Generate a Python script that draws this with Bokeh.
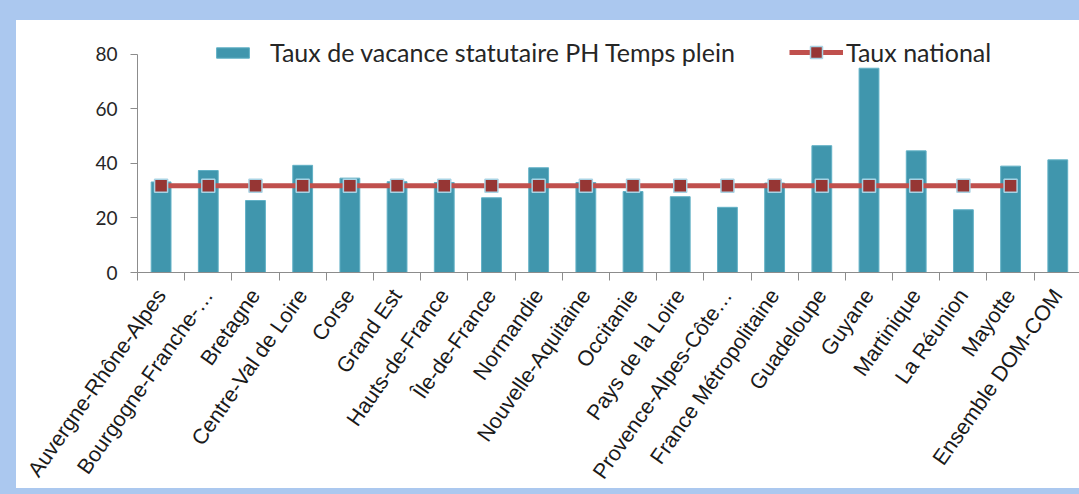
import numpy as np
from bokeh.plotting import figure
from bokeh.models import ColumnDataSource, Range1d, FixedTicker, Legend, LegendItem
from bokeh.embed import file_html
from bokeh.resources import INLINE

# ---- data ----
regions = ["Auvergne-Rhône-Alpes", "Bourgogne-Franche-…", "Bretagne",
           "Centre-Val de Loire", "Corse", "Grand Est", "Hauts-de-France",
           "Île-de-France", "Normandie", "Nouvelle-Aquitaine", "Occitanie",
           "Pays de la Loire", "Provence-Alpes-Côte…", "France Métropolitaine",
           "Guadeloupe", "Guyane", "Martinique", "La Réunion", "Mayotte",
           "Ensemble DOM-COM"]
taux_vacance = [33.2, 37.4, 26.4, 39.3, 34.6, 33.3, 33.0, 27.4, 38.4, 33.0,
                29.7, 27.8, 23.9, 32.8, 46.5, 74.9, 44.6, 23.0, 39.0, 41.3]
taux_national = [31.8, 31.8, 31.8, 31.8, 31.8, 31.8, 31.8, 31.8, 31.8, 31.8,
                 31.8, 31.8, 31.8, 31.8, 31.8, 31.8, 31.8, 31.8, 31.8, float("nan")]
y_ticks = [0, 20, 40, 60, 80]

n = len(regions)
centers = [i + 0.5 for i in range(n)]
bounds = [float(i) for i in range(n + 1)]

src = ColumnDataSource(dict(x=centers, v=taux_vacance, t=taux_national))

# element is 1079x494 (border-box); visible canvas = 1063x468 at (16, 20)
p = figure(width=1079, height=494,
           x_range=Range1d(0, 19.96), y_range=Range1d(0, 88),
           output_backend="svg", toolbar_location=None,
           min_border_left=121, min_border_top=12,
           min_border_bottom=242, min_border_right=16)
p.styles = {"border-left": "16px solid #abc8ef",
            "border-top": "20px solid #abc8ef",
            "border-bottom": "6px solid #abc8ef"}
p.border_fill_color = "white"
p.background_fill_color = "white"
p.outline_line_color = None
p.xgrid.visible = False
p.ygrid.visible = False

bars = p.vbar(x="x", top="v", width=0.42, source=src,
              fill_color="#4096ad", line_color="#62b1c6", line_width=1)
ln = p.line(x="x", y="t", source=src, line_color="#c0504d", line_width=5)
sc = p.scatter(x="x", y="t", source=src, marker="square", size=13,
               fill_color="#963634", line_color="#a9d3e4", line_width=1.5)

# x axis
xa = p.xaxis[0]
xa.ticker = FixedTicker(ticks=centers, minor_ticks=bounds)
xa.major_label_overrides = {float(c): r for c, r in zip(centers, regions)}
xa.major_tick_out = 0
xa.major_tick_in = 0
xa.minor_tick_out = 8
xa.minor_tick_in = 0
xa.minor_tick_line_color = "#8c8c8c"
xa.axis_line_color = "#8c8c8c"
xa.major_label_orientation = 0.96
xa.major_label_text_font = "Liberation Sans"
xa.major_label_text_font_size = "21.5px"
xa.major_label_text_color = "#1a1a1a"
xa.major_label_standoff = 11

# y axis
ya = p.yaxis[0]
ya.ticker = FixedTicker(ticks=y_ticks, minor_ticks=[])
ya.bounds = (0, 80)
ya.major_tick_out = 7
ya.major_tick_in = 0
ya.major_tick_line_color = "#8c8c8c"
ya.axis_line_color = "#8c8c8c"
ya.major_label_text_font = "Lato"
ya.major_label_text_font_size = "19px"
ya.major_label_text_color = "#262626"
ya.major_label_standoff = 13

common = dict(orientation="horizontal", padding=0, margin=0,
              border_line_color=None, background_fill_alpha=0,
              label_text_font="Lato", label_text_font_size="25px",
              label_text_color="#262626", glyph_width=41)

legend1 = Legend(items=[
    LegendItem(label="Taux de vacance statutaire PH Temps plein", renderers=[bars])],
    location=(75, 205), glyph_height=13, label_standoff=17, **common)
legend2 = Legend(items=[
    LegendItem(label="Taux national", renderers=[ln, sc])],
    location=(652, 205), glyph_height=30, label_standoff=3, **common)
legend2.glyph_width = 54
p.add_layout(legend1)
p.add_layout(legend2)

open("out.html", "w").write(file_html(p, INLINE))
